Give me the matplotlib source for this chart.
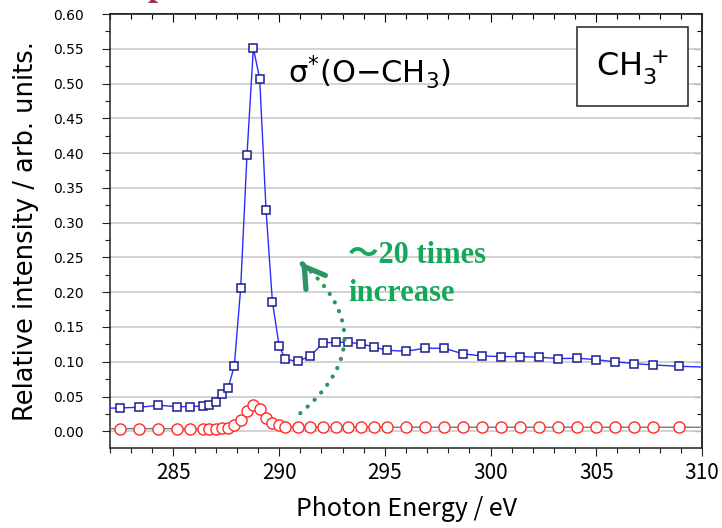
import matplotlib
matplotlib.use("Agg")
import matplotlib.pyplot as plt
from matplotlib.ticker import MultipleLocator, FormatStrFormatter
from matplotlib.patches import Rectangle

# ---------------- data ----------------
energy = [281.6, 282.47, 283.37, 284.29, 285.19, 285.77, 286.39, 286.69, 286.99, 287.29,
          287.59, 287.88, 288.18, 288.48, 288.78, 289.08, 289.38, 289.68, 290.0,
          290.29, 290.88, 291.48, 292.08, 292.68, 293.28, 293.88, 294.48, 295.08,
          296.0, 296.88, 297.81, 298.7, 299.6, 300.5, 301.4, 302.3, 303.2, 304.1,
          305.0, 305.9, 306.8, 307.7, 308.91, 310.5]

ch3_molecule = [0.033, 0.0336, 0.0345, 0.0374, 0.0355, 0.0355, 0.0365, 0.038, 0.0427, 0.0537,
                0.0624, 0.0945, 0.2058, 0.3976, 0.551, 0.507, 0.3184, 0.1866, 0.1228,
                0.1036, 0.1007, 0.1084, 0.1271, 0.128, 0.128, 0.1256, 0.1213, 0.1165,
                0.1151, 0.1194, 0.1194, 0.1113, 0.1084, 0.1074, 0.1074, 0.1065, 0.1046,
                0.105, 0.1031, 0.0998, 0.0974, 0.0954, 0.0935, 0.092]

ch3_surface = [0.0038, 0.0038, 0.0038, 0.0038, 0.0038, 0.0038, 0.0038, 0.0038, 0.004, 0.0048,
               0.0053, 0.0086, 0.0163, 0.0298, 0.038, 0.0326, 0.0197, 0.0125, 0.0086,
               0.0062, 0.0058, 0.0058, 0.0058, 0.0058, 0.0058, 0.0058, 0.0058, 0.0058,
               0.0058, 0.0058, 0.0058, 0.0058, 0.0058, 0.0058, 0.0058, 0.0058, 0.0058,
               0.0058, 0.0058, 0.0058, 0.0058, 0.0058, 0.0058, 0.0058]

x_ticks = [285, 290, 295, 300, 305, 310]
y_ticks = [0.00, 0.05, 0.10, 0.15, 0.20, 0.25, 0.30, 0.35, 0.40, 0.45, 0.50, 0.55, 0.60]

# ---------------- figure ----------------
W, H = 722, 528
fig = plt.figure(figsize=(W / 100, H / 100), dpi=100)
ax = fig.add_axes([110 / W, 1 - 448 / H, 592 / W, 434 / H])

ax.set_xlim(282.0, 310.0)
ax.set_ylim(-0.024, 0.60)

ax.set_yticks(y_ticks)
ax.yaxis.set_minor_locator(MultipleLocator(0.025))
ax.yaxis.set_major_formatter(FormatStrFormatter('%.2f'))
ax.set_xticks(x_ticks)
ax.xaxis.set_minor_locator(MultipleLocator(1))

ax.grid(axis='y', which='major', color='#cfcfcf', lw=1.3, zorder=0)
ax.set_axisbelow(True)

for s in ax.spines.values():
    s.set_linewidth(1.1)
    s.set_color('#222222')

ax.tick_params(axis='both', which='major', direction='out', length=6, width=0.8, color='#222222')
ax.tick_params(axis='both', which='minor', direction='out', length=3.6, width=0.8, color='#222222')
ax.tick_params(axis='y', which='major', pad=13, labelsize=10)
ax.tick_params(axis='x', which='major', pad=4)
for lab in ax.get_xticklabels():
    lab.set_fontfamily(['Noto Sans CJK JP', 'DejaVu Sans'])
    lab.set_fontsize(15)
for lab in ax.get_yticklabels():
    lab.set_fontfamily('DejaVu Sans')

secx = ax.secondary_xaxis('top')
secx.set_xticks(x_ticks)
secx.xaxis.set_minor_locator(MultipleLocator(1))
secx.tick_params(which='major', direction='in', length=6, width=0.8, labeltop=False)
secx.tick_params(which='minor', direction='in', length=3.6, width=0.8)
secx.spines['top'].set_linewidth(1.1)

secy = ax.secondary_yaxis('right')
secy.set_yticks(y_ticks)
secy.yaxis.set_minor_locator(MultipleLocator(0.025))
secy.tick_params(which='major', direction='in', length=6, width=0.8, labelright=False)
secy.tick_params(which='minor', direction='in', length=3.6, width=0.8)
secy.spines['right'].set_linewidth(1.4)
secy.spines['right'].set_color('#555555')

# ---------------- series ----------------
ax.plot(energy, ch3_surface, color='#7a7a7a', lw=1.0,
        marker='o', ms=8, mfc='white', mec='#ff2a2a', mew=1.0, zorder=3)
ax.plot(energy, ch3_molecule, color='#2b2bff', lw=1.0,
        marker='s', ms=6.3, mfc='white', mec='#1c1c90', mew=1.1, zorder=4)

# ---------------- labels ----------------
ax.set_xlabel('Photon Energy / eV', fontsize=18, family=['Noto Sans CJK JP', 'DejaVu Sans'],
              labelpad=9)
ax.set_ylabel('Relative intensity / arb. units.', fontsize=18.5, family='DejaVu Sans',
              labelpad=10)

ax.text(0.300, 0.841, r'$\mathrm{σ^{*}(O{-}CH_{3})}$', transform=ax.transAxes,
        fontsize=22, ha='left', va='baseline', zorder=6)

ax.add_patch(Rectangle((0.789, 0.788), 0.1875, 0.182, transform=ax.transAxes,
                       facecolor='white', edgecolor='#222222', lw=1.1, zorder=5))
ax.text(0.8825, 0.877, r'$\mathrm{CH_{3}^{\,+}}$', transform=ax.transAxes,
        fontsize=23, ha='center', va='center', zorder=6)

green = '#14a85a'
ax.text(0.402, 0.426, '～20 times', transform=ax.transAxes, color=green,
        fontsize=22, fontweight='bold', family=['Liberation Serif', 'Noto Sans CJK JP'],
        ha='left', va='baseline', zorder=6)
ax.text(0.402, 0.3387, 'increase', transform=ax.transAxes, color=green,
        fontsize=22, fontweight='bold', family=['Liberation Serif', 'Noto Sans CJK JP'],
        ha='left', va='baseline', zorder=6)

arrow_green = '#2c9563'
tip = (291.05, 0.2427)
ax.annotate('', xy=tip, xytext=(291.0, 0.026),
            arrowprops=dict(arrowstyle='-', connectionstyle='arc3,rad=0.58',
                            linestyle=(0, (0.05, 2.3)), lw=3.0, color=arrow_green,
                            capstyle='round', shrinkA=0, shrinkB=0), zorder=6)
ax.annotate('', xy=tip, xytext=(291.095, 0.2408),
            arrowprops=dict(arrowstyle='->,head_length=0.7,head_width=0.43',
                            lw=3.8, color=arrow_green, mutation_scale=20,
                            shrinkA=0, shrinkB=0), zorder=6)

# clipped fragment of a title above the figure (only its descender is visible)
fig.text(147 / W, 1 + 5 / H, 'p', color='#9c2a5e', fontsize=26, fontweight='bold',
         family='Liberation Serif', ha='left', va='baseline')

fig.savefig('out.png', dpi=100)
